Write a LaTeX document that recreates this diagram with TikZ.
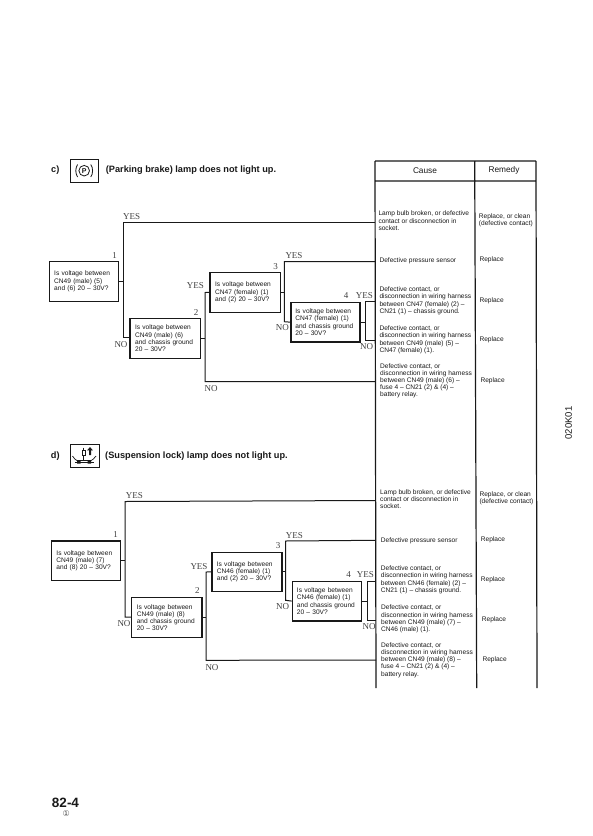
\documentclass[tikz,border=0pt]{standalone}
\usepackage{fontspec}
\setmainfont{Liberation Sans}
\newfontfamily\serifl{Liberation Serif}
\newfontfamily\dejav{DejaVu Sans}
\tikzset{
 line/.style={line width=1pt,black!90},
 qbox/.style={draw=black!90,line width=1.2pt,inner sep=0pt,anchor=north west,align=left,font=\fontsize{6.6}{7.3}\selectfont,text=black!90},
 cell/.style={anchor=west,align=left,inner sep=0pt,font=\fontsize{6.6}{7.2}\selectfont,text=black!90},
 lab/.style={font=\serifl\fontsize{9}{9}\selectfont,inner sep=0pt,text=black!75},
 head/.style={font=\fontsize{8.3}{9}\selectfont,inner sep=0pt,text=black!90},
 titl/.style={anchor=west,inner sep=0pt,font=\bfseries\fontsize{9.2}{10}\selectfont,text=black!90},
 icon/.style={draw=black!90,line width=0.8pt}
}
\begin{document}
\begin{tikzpicture}[x=1pt,y=-1pt]
\useasboundingbox (0,0) rectangle (593,836);
\fill[white] (0,0) rectangle (593,836);
% table
\coordinate (tl) at (375,161); \coordinate (tbl) at (376,688);
\coordinate (tm) at (474.7,161); \coordinate (tbm) at (476.7,688);
\coordinate (tr) at (536,161); \coordinate (tbr) at (537,688);
\coordinate (hl) at (375,181); \coordinate (hr) at (536,181);
\draw[line width=1.2pt,black!90] (tl) -- (tbl) (tm) -- (tbm) (tr) -- (tbr) (tl) -- (tr) (hl) -- (hr);
\node[head] (hc) at (425,171) {Cause};
\node[head] (hrem) at (504,170.5) {Remedy};

% ---- section c
\node[titl] (cl) at (51,170) {c)};
\node[draw=black!90,line width=0.9pt,minimum width=28.3pt,minimum height=23pt,inner sep=0pt] (ci) at (84.2,170.7) {};
\draw[icon] (84.2,170.7) circle (5.3);
\node[inner sep=0pt,font=\bfseries\fontsize{7}{7}\selectfont,text=black!90] (cip) at (84.2,170.7) {P};
\draw[icon] (77.6,164.5) .. controls (75.2,168) and (75.2,173.5) .. (77.6,177);
\draw[icon] (90.8,164.5) .. controls (93.2,168) and (93.2,173.5) .. (90.8,177);
\node[titl] (ct) at (105.7,170) {(Parking brake) lamp does not light up.};

\node[qbox,minimum width=69.2pt,minimum height=39.7pt,text width=59pt,inner xsep=5pt] (c1) at (48.5,261) {Is voltage between\\CN49 (male) (5)\\and (6) 20 -- 30V?};
\node[qbox,minimum width=70.4pt,minimum height=39.7pt,text width=60pt,inner xsep=5.2pt] (c2) at (129.3,318) {Is voltage between\\CN49 (male) (6)\\and chassis ground\\20 -- 30V?};
\node[qbox,minimum width=70.4pt,minimum height=39.7pt,text width=60pt,inner xsep=5.2pt] (c3) at (209.3,272) {Is voltage between\\CN47 (female) (1)\\and (2) 20 -- 30V?};
\node[qbox,minimum width=69pt,minimum height=39.7pt,text width=60pt,inner xsep=4.5pt] (c4) at (290.3,301.7) {Is voltage between\\CN47 (female) (1)\\and chassis ground\\20 -- 30V?};
\coordinate (cj1a) at (123.3,222.3); \coordinate (cj1b) at (123.3,337.8);
\coordinate (ce1) at (375.2,222.3);
\draw[line] (ce1) -- (cj1a) -- (cj1b) -- (c2.west |- cj1b);
\draw[line] (c1.east) -- (c1.east -| cj1a);
\coordinate (cj2a) at (205,292.5); \coordinate (cj2b) at (205,381.5);
\coordinate (ce2) at (375.7,381.5);
\draw[line] (c3.west) -- (cj2a) -- (cj2b) -- (ce2);
\draw[line] (c2.east) -- (c2.east -| cj2a);
\coordinate (cj3a) at (284.3,261.7); \coordinate (cj3b) at (284.3,321.7);
\coordinate (ce3) at (375.4,261.7);
\draw[line] (ce3) -- (cj3a) -- (cj3b) -- (c4.west);
\draw[line] (c3.east) -- (c3.east -| cj3a);
\coordinate (cj4a) at (365.7,301.7); \coordinate (cj4b) at (365.7,340.7);
\coordinate (ce4a) at (375.5,301.7); \coordinate (ce4b) at (375.6,340.7);
\draw[line] (ce4a) -- (cj4a) -- (cj4b) -- (ce4b);
\draw[line] (c4.east) -- (c4.east -| cj4a);
\node[lab] (cn1) at (114.7,255.3) {1};
\node[lab] (cy1) at (131.7,216.7) {YES};
\node[lab] (cno1) at (121,344.7) {NO};
\node[lab] (cn2) at (196,312.3) {2};
\node[lab] (cy2) at (195.3,285.7) {YES};
\node[lab] (cno2) at (211,389) {NO};
\node[lab] (cn3) at (275.7,266.7) {3};
\node[lab] (cy3) at (294,255.3) {YES};
\node[lab] (cno3) at (282.3,328) {NO};
\node[lab] (cn4) at (346,295.3) {4};
\node[lab] (cy4) at (364.3,295.3) {YES};
\node[lab] (cno4) at (366.7,347) {NO};

\node[cell] (cc1) at (378.3,220.7) {Lamp bulb broken, or defective\\contact or disconnection in\\socket.};
\node[cell] (cc2) at (379.3,261) {Defective pressure sensor};
\node[cell] (cc3) at (379.3,300.7) {Defective contact, or\\disconnection in wiring harness\\between CN47 (female) (2) --\\CN21 (1) -- chassis ground.};
\node[cell] (cc4) at (379.3,339.7) {Defective contact, or\\disconnection in wiring harness\\between CN49 (male) (5) --\\CN47 (female) (1).};
\node[cell] (cc5) at (380,380.7) {Defective contact, or\\disconnection in wiring harness\\between CN49 (male) (6) --\\fuse 4 -- CN21 (2) \& (4) --\\battery relay.};
\node[cell] (cr1) at (478.7,220) {Replace, or clean\\(defective contact)};
\node[cell] (cr2) at (479.3,260) {Replace};
\node[cell] (cr3) at (479.3,301) {Replace};
\node[cell] (cr4) at (479.3,340) {Replace};
\node[cell] (cr5) at (480.3,380.7) {Replace};

% ---- section d
\node[titl] (dl) at (50.7,456) {d)};
\node[draw=black!90,line width=0.9pt,minimum width=29pt,minimum height=23.3pt,inner sep=0pt] (di) at (84.5,455.7) {};
\draw[icon,line width=0.7pt] (82,450) rectangle (85.2,455.5);
\draw[icon,line width=0.7pt] (83.6,447.5) -- (83.6,450) (83.6,455.5) -- (83.6,460);
\fill[black!90] (90,447) -- (92.8,450.3) -- (91,450.3) -- (91,455) -- (89,455) -- (89,450.3) -- (87.2,450.3) -- cycle;
\draw[icon,line width=0.7pt] (72.5,456) .. controls (76,461.5) and (78,461) .. (81,460.5) -- (87,460.5) .. controls (90,461) and (92,461.5) .. (96,456);
\draw[icon,line width=0.7pt] (75,462.5) -- (94,462.5);
\fill[black!90] (77,460) rectangle (80.5,463.5) (87.5,460) rectangle (91,463.5);
\node[titl] (dt) at (105,456) {(Suspension lock) lamp does not light up.};

\node[qbox,minimum width=69.3pt,minimum height=39.4pt,text width=59pt,inner xsep=5pt] (d1) at (50.7,540.3) {Is voltage between\\CN49 (male) (7)\\and (8) 20 -- 30V?};
\node[qbox,minimum width=70.3pt,minimum height=40pt,text width=60pt,inner xsep=5.2pt] (d2) at (131,597) {Is voltage between\\CN49 (male) (8)\\and chassis ground\\20 -- 30V?};
\node[qbox,minimum width=70pt,minimum height=39.3pt,text width=60pt,inner xsep=5pt] (d3) at (211.3,551.7) {Is voltage between\\CN46 (female) (1)\\and (2) 20 -- 30V?};
\node[qbox,minimum width=69.3pt,minimum height=39.6pt,text width=60pt,inner xsep=4.6pt] (d4) at (291.7,580.7) {Is voltage between\\CN46 (female) (1)\\and chassis ground\\20 -- 30V?};
\coordinate (dj1a) at (125,501.5); \coordinate (dj1b) at (125,617);
\coordinate (de1) at (375.8,500.5);
\draw[line] (de1) -- (dj1a) -- (dj1b) -- (d2.west |- dj1b);
\draw[line] (d1.east) -- (d1.east -| dj1a);
\coordinate (dj2a) at (206,572); \coordinate (dj2b) at (206,660.3);
\coordinate (de2) at (376,660);
\draw[line] (d3.west) -- (dj2a) -- (dj2b) -- (de2);
\draw[line] (d2.east) -- (d2.east -| dj2a);
\coordinate (dj3a) at (285.7,541); \coordinate (dj3b) at (285.7,600.3);
\coordinate (de3) at (375.8,540.3);
\draw[line] (de3) -- (dj3a) -- (dj3b) -- (d4.west);
\draw[line] (d3.east) -- (d3.east -| dj3a);
\coordinate (dj4a) at (367.3,581); \coordinate (dj4b) at (367.3,620);
\coordinate (de4a) at (375.9,581); \coordinate (de4b) at (376,620);
\draw[line] (de4a) -- (dj4a) -- (dj4b) -- (de4b);
\draw[line] (d4.east) -- (d4.east -| dj4a);
\node[lab] (dn1) at (115.7,534.7) {1};
\node[lab] (dy1) at (134.3,495.7) {YES};
\node[lab] (dno1) at (124,624) {NO};
\node[lab] (dn2) at (197.3,591) {2};
\node[lab] (dy2) at (199,566.3) {YES};
\node[lab] (dno2) at (212,667.3) {NO};
\node[lab] (dn3) at (278,545.7) {3};
\node[lab] (dy3) at (294.3,535.3) {YES};
\node[lab] (dno3) at (282.7,607) {NO};
\node[lab] (dn4) at (348.7,575) {4};
\node[lab] (dy4) at (365.3,574.7) {YES};
\node[lab] (dno4) at (369,626.7) {NO};

\node[cell] (dc1) at (380,499.3) {Lamp bulb broken, or defective\\contact or disconnection in\\socket.};
\node[cell] (dc2) at (380.7,541) {Defective pressure sensor};
\node[cell] (dc3) at (380.7,579.7) {Defective contact, or\\disconnection in wiring harness\\between CN46 (female) (2) --\\CN21 (1) -- chassis ground.};
\node[cell] (dc4) at (381,619) {Defective contact, or\\disconnection in wiring harness\\between CN49 (male) (7) --\\CN46 (male) (1).};
\node[cell] (dc5) at (381,660) {Defective contact, or\\disconnection in wiring harness\\between CN49 (male) (8) --\\fuse 4 -- CN21 (2) \& (4) --\\battery relay.};
\node[cell] (dr1) at (479.3,498.3) {Replace, or clean\\(defective contact)};
\node[cell] (dr2) at (480.7,540) {Replace};
\node[cell] (dr3) at (480.7,579.7) {Replace};
\node[cell] (dr4) at (481.7,619.3) {Replace};
\node[cell] (dr5) at (482.3,660) {Replace};

% footer and side
\node[inner sep=0pt,font=\bfseries\fontsize{13.5}{14}\selectfont,text=black!90] (pg) at (65.5,803) {82-4};
\node[inner sep=0pt,font=\dejav\fontsize{8}{8}\selectfont,text=black!70] (rev) at (66.3,814) {①};
\node[inner sep=0pt,rotate=90,font=\fontsize{9.5}{10}\selectfont,text=black!90] (sid) at (568.5,423) {020K01};
\end{tikzpicture}
\end{document}
